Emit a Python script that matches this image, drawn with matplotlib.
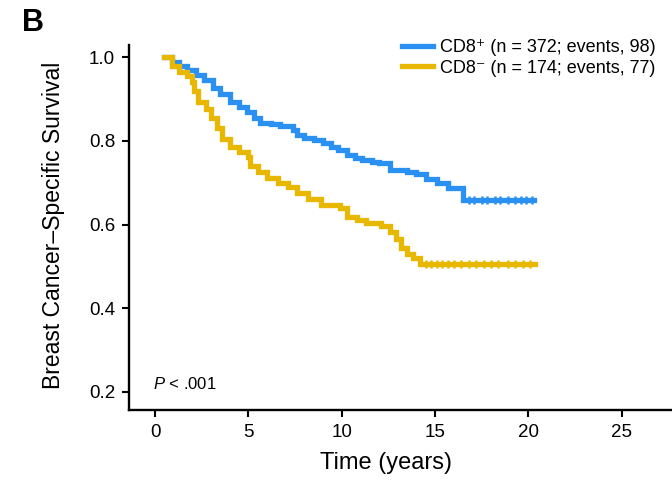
import numpy as np
import matplotlib
matplotlib.use('Agg')
import matplotlib.pyplot as plt

plt.rcParams['font.family'] = ['Liberation Sans', 'DejaVu Sans']
plt.rcParams['mathtext.fontset'] = 'custom'
plt.rcParams['mathtext.rm'] = 'Liberation Sans'
plt.rcParams['mathtext.it'] = 'Liberation Sans:italic'

# Kaplan-Meier curves (time in years, survival)
cd8pos_t = [0.45, 0.9, 1.3, 1.7, 2.2, 2.6, 3.1, 3.5, 4.0, 4.5, 4.9, 5.3, 5.6, 6.2,
            6.7, 7.4, 7.6, 8.0, 8.5, 9.0, 9.4, 9.8, 10.3, 10.7, 11.1, 11.6, 12.0,
            12.6, 13.5, 14.0, 14.5, 15.1, 15.7, 16.5, 20.3]
cd8pos_s = [1.0, 0.99, 0.98, 0.97, 0.958, 0.945, 0.927, 0.912, 0.894, 0.882, 0.87,
            0.855, 0.843, 0.84, 0.836, 0.826, 0.814, 0.808, 0.802, 0.795, 0.786,
            0.778, 0.766, 0.76, 0.754, 0.75, 0.747, 0.73, 0.726, 0.72, 0.709,
            0.699, 0.687, 0.66, 0.66]
cd8neg_t = [0.45, 0.9, 1.3, 1.7, 1.95, 2.1, 2.3, 2.7, 3.0, 3.3, 3.6, 4.0, 4.5, 4.95,
            5.1, 5.5, 6.0, 6.6, 7.1, 7.6, 8.2, 8.9, 9.9, 10.3, 10.8, 11.3, 12.1,
            12.6, 12.9, 13.2, 13.5, 13.8, 14.2, 20.35]
cd8neg_s = [1.0, 0.98, 0.965, 0.955, 0.94, 0.92, 0.894, 0.876, 0.855, 0.83, 0.804,
            0.786, 0.774, 0.762, 0.74, 0.725, 0.712, 0.699, 0.69, 0.675, 0.662,
            0.648, 0.64, 0.619, 0.612, 0.605, 0.597, 0.583, 0.565, 0.545, 0.53,
            0.52, 0.506, 0.506]
# censor ticks on the tails
cd8pos_cens = [16.8, 17.1, 17.5, 17.8, 18.2, 18.5, 18.9, 19.3, 19.6, 19.9, 20.2]
cd8neg_cens = [14.5, 14.8, 15.1, 15.4, 15.7, 16.0, 16.4, 16.8, 17.2, 17.6, 18.0,
               18.4, 18.9, 19.3, 19.7, 20.1]

labels = ['CD8\u207a (n = 372; events, 98)', 'CD8\u207b (n = 174; events, 77)']
colors = ['#2a90f2', '#e8b800']

fig = plt.figure(figsize=(6.72, 4.93), dpi=100)
ax = fig.add_axes([0.192, 0.168, 0.808, 0.741])

for t, s, c, col, lab in [(cd8pos_t, cd8pos_s, cd8pos_cens, colors[0], labels[0]),
                          (cd8neg_t, cd8neg_s, cd8neg_cens, colors[1], labels[1])]:
    ax.plot(t, s, drawstyle='steps-post', color=col, linewidth=3.8, label=lab,
            solid_joinstyle='miter')
    idx = np.searchsorted(t, c, side='right') - 1
    ax.plot(c, np.array(s)[idx], linestyle='none', marker='+', color=col,
            markersize=5.5, markeredgewidth=1.8)

ax.set_xlim(-1.4, 27.7)
ax.set_ylim(0.156, 1.03)
ax.set_xticks([0, 5, 10, 15, 20, 25])
ax.set_yticks([0.2, 0.4, 0.6, 0.8, 1.0])
ax.set_yticklabels(['0.2', '0.4', '0.6', '0.8', '1.0'])
ax.spines['top'].set_visible(False)
ax.spines['right'].set_visible(False)
ax.spines['left'].set_linewidth(1.7)
ax.spines['bottom'].set_linewidth(1.7)
ax.tick_params(direction='out', length=5, width=1.5, labelsize=13.5, pad=5)

ax.set_xlabel('Time (years)', fontsize=17)
ax.xaxis.set_label_coords(0.473, -0.115)
ax.set_ylabel('Breast Cancer\u2013Specific Survival', fontsize=16.5)
ax.yaxis.set_label_coords(-0.118, 0.507)

ax.text(-0.1, 0.218, '$P$ < .001', fontsize=12, va='center', ha='left')

ax.legend(loc='upper right', bbox_to_anchor=(1.0, 1.06), frameon=False,
          fontsize=13, handlelength=1.7, handletextpad=0.4, labelspacing=0.2)

fig.text(0.032, 0.953, 'B', fontsize=22, fontweight='bold', va='center', ha='left')

fig.savefig('out.png', dpi=100)
